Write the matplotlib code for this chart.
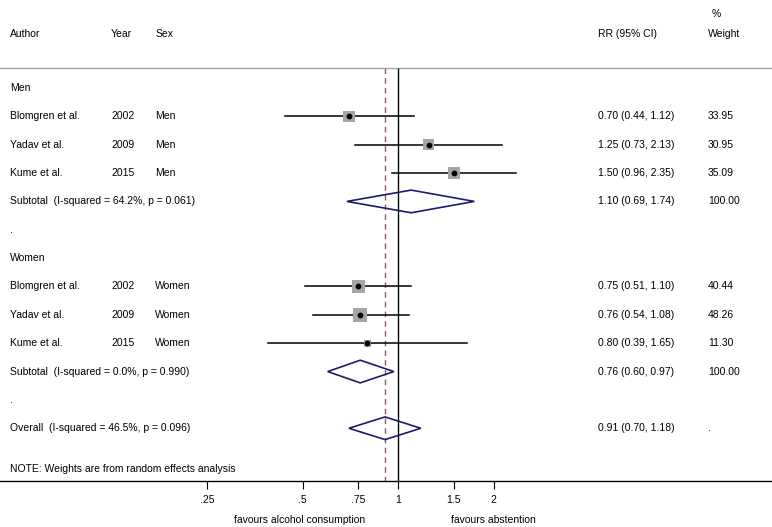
import numpy as np
import matplotlib.pyplot as plt
from matplotlib.transforms import blended_transform_factory

plt.rcParams['font.family'] = ['Liberation Sans', 'DejaVu Sans']

# study data
authors = ['Blomgren et al.', 'Yadav et al.', 'Kume et al.']
years = ['2002', '2009', '2015']
men_rr = [0.70, 1.25, 1.50]
men_lo = [0.44, 0.73, 0.96]
men_hi = [1.12, 2.13, 2.35]
men_w = [33.95, 30.95, 35.09]
women_rr = [0.75, 0.76, 0.80]
women_lo = [0.51, 0.54, 0.39]
women_hi = [1.10, 1.08, 1.65]
women_w = [40.44, 48.26, 11.30]

# pooled
sub_labels = ['Subtotal  (I-squared = 64.2%, p = 0.061)',
              'Subtotal  (I-squared = 0.0%, p = 0.990)']
sub_rr = [1.10, 0.76]
sub_lo = [0.69, 0.60]
sub_hi = [1.74, 0.97]
overall_label = 'Overall  (I-squared = 46.5%, p = 0.096)'
overall_rr, overall_lo, overall_hi = 0.91, 0.70, 1.18

ticks = [0.25, 0.5, 0.75, 1, 1.5, 2]
tick_labels = ['.25', '.5', '.75', '1', '1.5', '2']

fig = plt.figure(figsize=(7.72, 5.27), dpi=100)
ax = fig.add_axes([0, 46/527, 1, 481/527])
ax.set_xscale('log', base=2)
ax.set_xlim(0.0556, 15.1)
ax.set_ylim(13.86, -3.104)
for s in ['top', 'left', 'right']:
    ax.spines[s].set_visible(False)
ax.spines['bottom'].set_linewidth(1.0)
ax.set_yticks([])
ax.set_xticks(ticks)
ax.set_xticklabels(tick_labels)
ax.minorticks_off()
ax.tick_params(axis='x', length=6, width=0.8, labelsize=7.5, pad=4)

tr = blended_transform_factory(ax.transAxes, ax.transData)
fs = 7.5
col_author, col_year, col_sex, col_rr, col_w = 0.013, 0.144, 0.201, 0.775, 0.917

def txt(x, y, s):
    ax.text(x, y, s, transform=tr, fontsize=fs, va='center', ha='left')

# header
ax.text(0.922, -2.6, '%', transform=tr, fontsize=fs, va='center')
txt(col_author, -1.9, 'Author')
txt(col_year, -1.9, 'Year')
txt(col_sex, -1.9, 'Sex')
txt(col_rr, -1.9, 'RR (95% CI)')
txt(col_w, -1.9, 'Weight')
ax.plot([0, 1], [-0.7, -0.7], transform=tr, color='#a8a8a8', lw=1.0, clip_on=False)

# reference lines
ax.vlines(1, -0.7, 13.86, color='black', lw=1.0)
ax.vlines(overall_rr, -0.7, 13.86, color='#8c5a64', lw=1.0, linestyles=(0, (4, 3)))

def study_rows(start, sex, rr, lo, hi, w):
    for i in range(3):
        y = start + i
        ax.plot([lo[i], hi[i]], [y, y], color='black', lw=1.1, zorder=2)
        side = 2.0 * np.sqrt(w[i]) * 0.72
        ax.scatter([rr[i]], [y], marker='s', s=side**2, color='#a6a6a6',
                   edgecolors='none', zorder=3)
        ax.scatter([rr[i]], [y], marker='o', s=10, color='black', zorder=4)
        txt(col_author, y, authors[i])
        txt(col_year, y, years[i])
        txt(col_sex, y, sex)
        txt(col_rr, y, f'{rr[i]:.2f} ({lo[i]:.2f}, {hi[i]:.2f})')
        txt(col_w, y, f'{w[i]:.2f}')

def diamond(y, rr, lo, hi):
    h = 0.4
    ax.fill([lo, rr, hi, rr, lo], [y, y - h, y, y + h, y], facecolor='none',
            edgecolor='#1c1c6a', lw=1.2, zorder=5)

txt(col_author, 0, 'Men')
study_rows(1, 'Men', men_rr, men_lo, men_hi, men_w)
diamond(4, sub_rr[0], sub_lo[0], sub_hi[0])
txt(col_author, 4, sub_labels[0])
txt(col_rr, 4, f'{sub_rr[0]:.2f} ({sub_lo[0]:.2f}, {sub_hi[0]:.2f})')
txt(col_w, 4, '100.00')
txt(col_author, 5, '.')

txt(col_author, 6, 'Women')
study_rows(7, 'Women', women_rr, women_lo, women_hi, women_w)
diamond(10, sub_rr[1], sub_lo[1], sub_hi[1])
txt(col_author, 10, sub_labels[1])
txt(col_rr, 10, f'{sub_rr[1]:.2f} ({sub_lo[1]:.2f}, {sub_hi[1]:.2f})')
txt(col_w, 10, '100.00')
txt(col_author, 11, '.')

diamond(12, overall_rr, overall_lo, overall_hi)
txt(col_author, 12, overall_label)
txt(col_rr, 12, f'{overall_rr:.2f} ({overall_lo:.2f}, {overall_hi:.2f})')
txt(col_w, 12, '.')

txt(col_author, 13.45, 'NOTE: Weights are from random effects analysis')

tb = blended_transform_factory(ax.transData, ax.transAxes)
ax.text(0.49, -0.081, 'favours alcohol consumption', transform=tb, fontsize=fs,
        ha='center', va='center')
ax.text(2.0, -0.081, 'favours abstention', transform=tb, fontsize=fs,
        ha='center', va='center')

fig.savefig('out.png', dpi=100)
